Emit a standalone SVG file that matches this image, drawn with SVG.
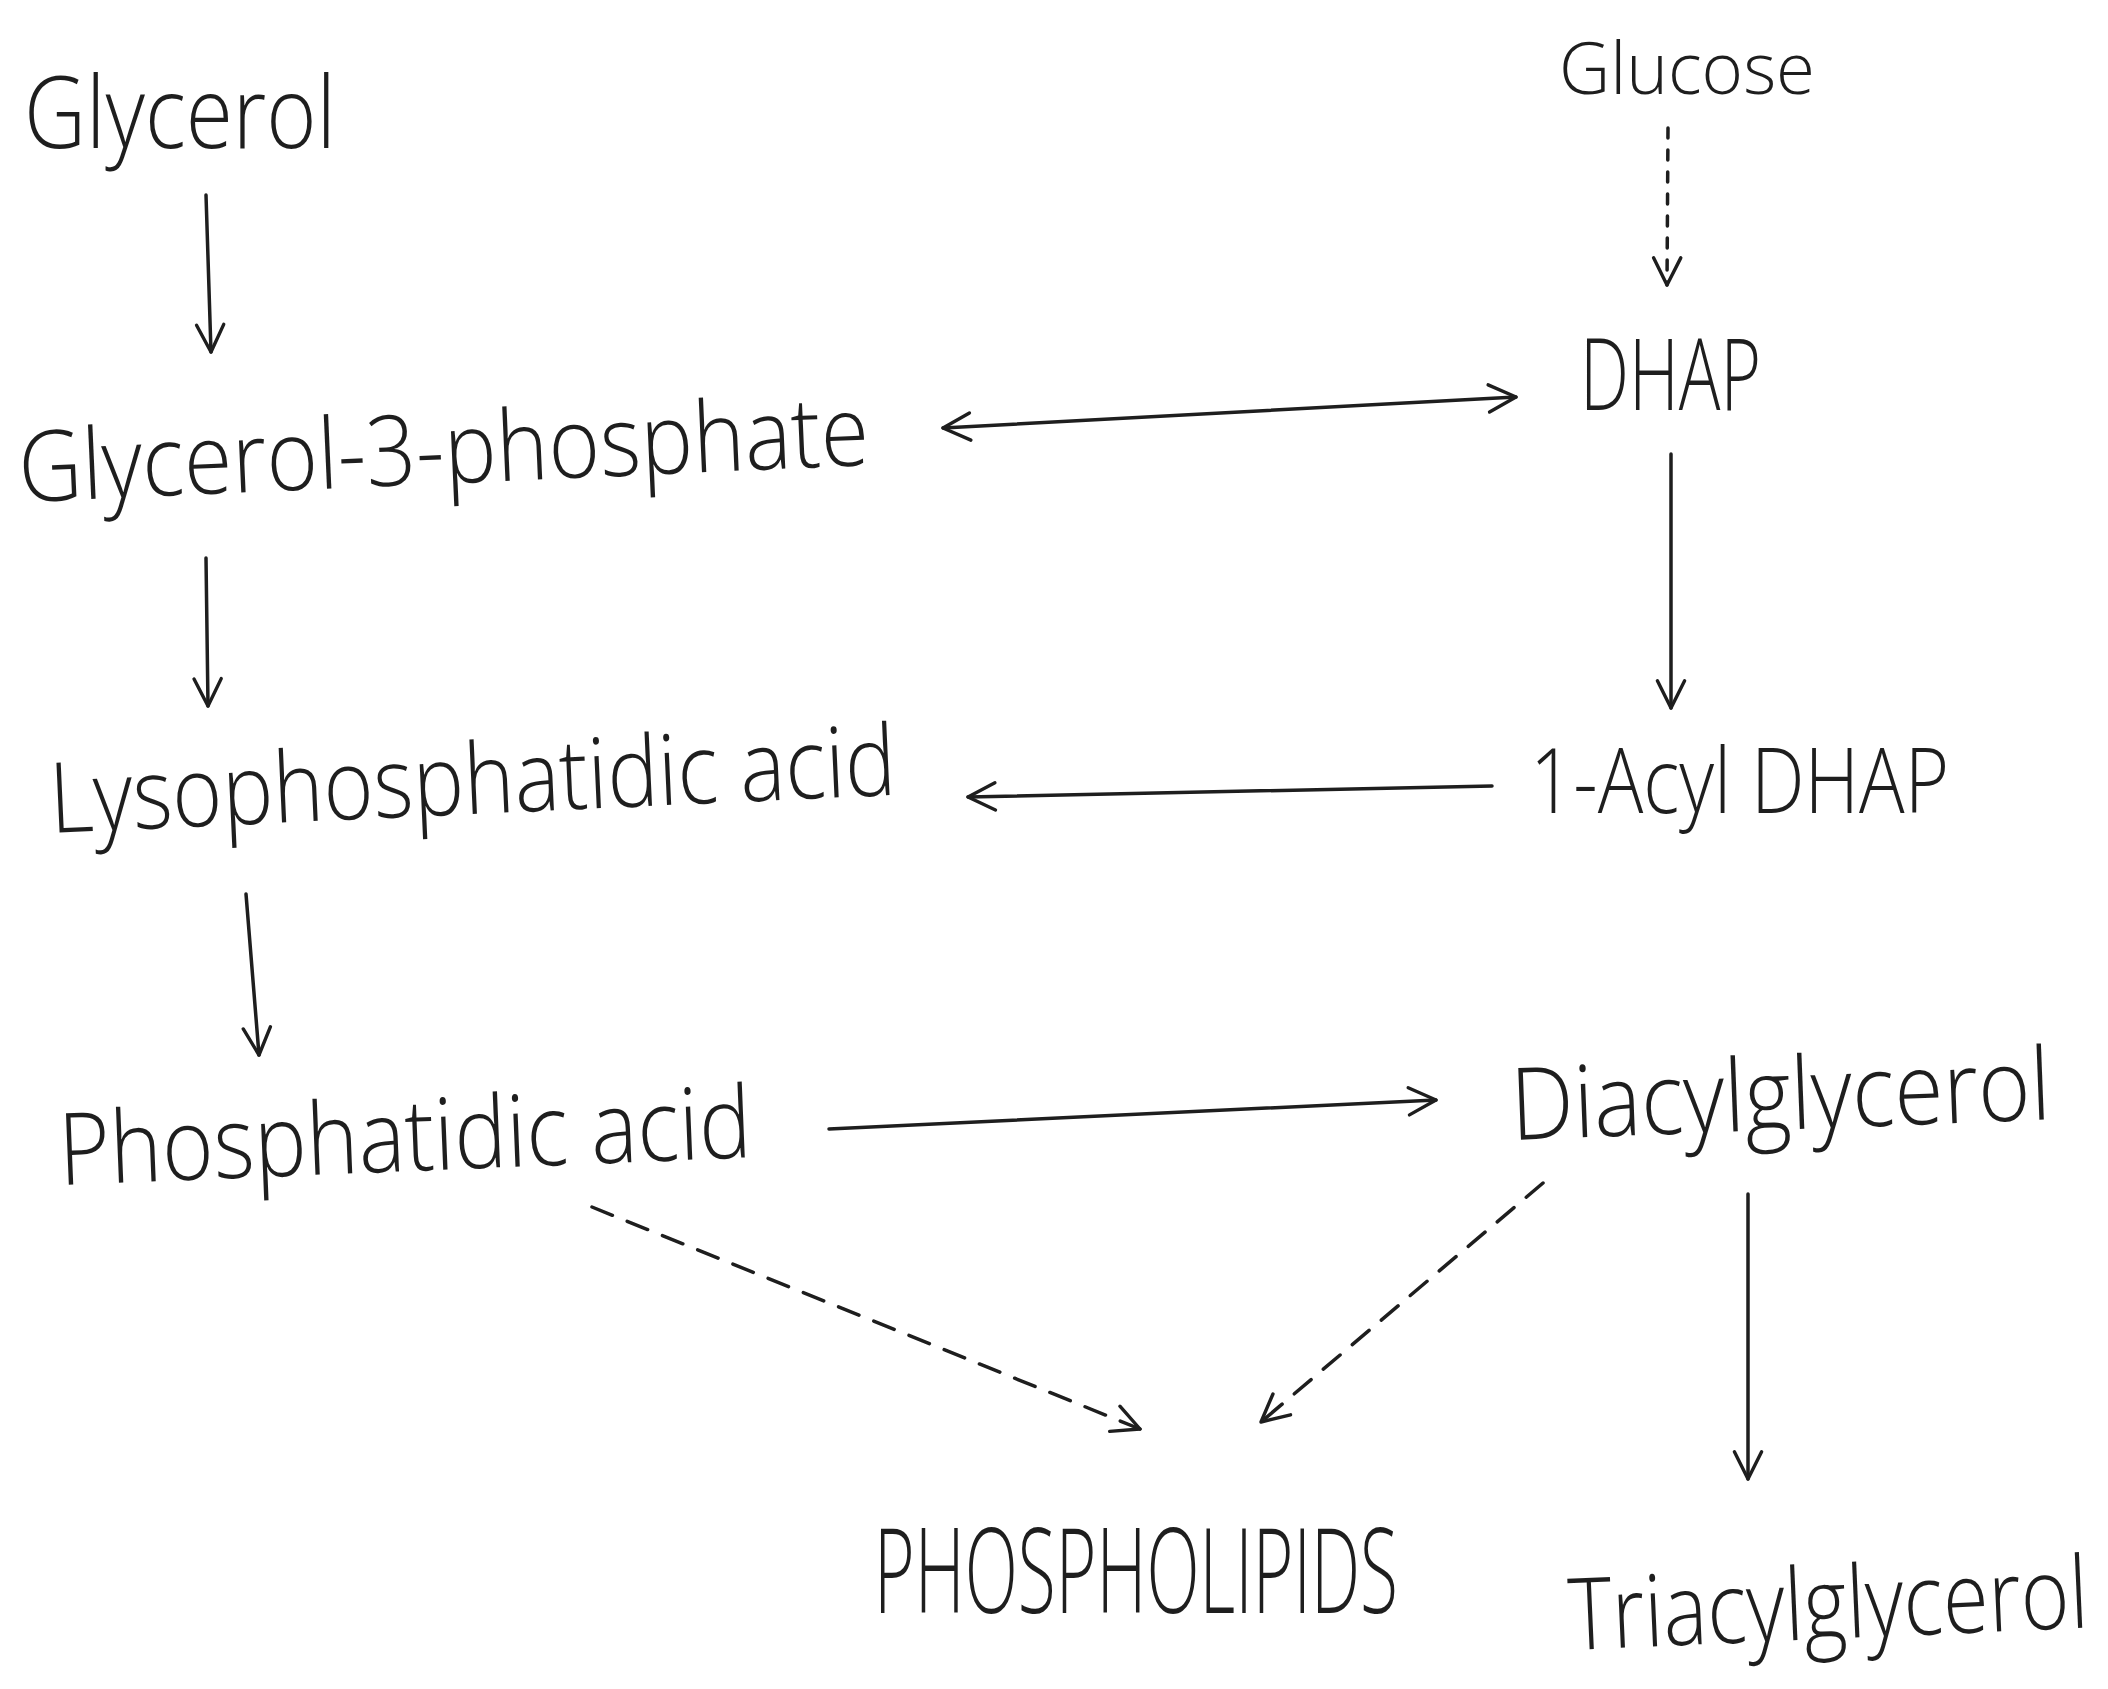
<svg xmlns="http://www.w3.org/2000/svg" width="2108" height="1689" viewBox="0 0 2108 1689">
<defs>
<style>
.t{font-family:"Open Sans","Liberation Sans",sans-serif;font-weight:300;fill:#1e1e1e;}
.c{stroke:#1e1e1e;stroke-width:3.5;fill:none;stroke-linecap:round;}
.dot{stroke-dasharray:10 12;}
.dash{stroke-dasharray:22 16;}
</style>
<marker id="ah" viewBox="0 0 20 20" refX="18" refY="10" markerWidth="34" markerHeight="34" markerUnits="userSpaceOnUse" orient="auto-start-reverse">
<path d="M2,2 L18,10 L2,18" fill="none" stroke="#1e1e1e" stroke-width="2" stroke-linecap="round" stroke-linejoin="round"/>
</marker>
</defs>
<rect width="2108" height="1689" fill="#ffffff"/>
<g id="connectors">
<line class="c" x1="206" y1="195" x2="211" y2="352" marker-end="url(#ah)"/>
<line class="c" x1="943" y1="428" x2="1516" y2="397" marker-start="url(#ah)" marker-end="url(#ah)"/>
<line class="c dot" x1="1668" y1="128" x2="1667" y2="285" marker-end="url(#ah)"/>
<line class="c" x1="1671" y1="454" x2="1671" y2="708" marker-end="url(#ah)"/>
<line class="c" x1="206" y1="558" x2="208" y2="706" marker-end="url(#ah)"/>
<line class="c" x1="1492" y1="786" x2="968" y2="797" marker-end="url(#ah)"/>
<line class="c" x1="246" y1="894" x2="259" y2="1055" marker-end="url(#ah)"/>
<line class="c" x1="829" y1="1129" x2="1436" y2="1100" marker-end="url(#ah)"/>
<line class="c" x1="1748" y1="1194" x2="1748" y2="1479" marker-end="url(#ah)"/>
<line class="c dash" x1="592" y1="1207" x2="1140" y2="1429" marker-end="url(#ah)"/>
<line class="c dash" x1="1543" y1="1183" x2="1261" y2="1422" marker-end="url(#ah)"/>
</g>
<g id="glycerol"><text class="t" x="24" y="148" font-size="100" textLength="312" lengthAdjust="spacingAndGlyphs">Glycerol</text></g>
<g id="glucose"><text class="t" x="1559" y="94" font-size="72" textLength="256" lengthAdjust="spacingAndGlyphs">Glucose</text></g>
<g id="g3p"><text class="t" x="20" y="502" font-size="98" textLength="851" lengthAdjust="spacingAndGlyphs" transform="rotate(-2.5 20 502)">Glycerol-3-phosphate</text></g>
<g id="dhap"><text class="t" x="1580" y="410" font-size="100" textLength="181" lengthAdjust="spacingAndGlyphs">DHAP</text></g>
<g id="lyso"><text class="t" x="51" y="833" font-size="98" textLength="847" lengthAdjust="spacingAndGlyphs" transform="rotate(-2.6 51 833)">Lysophosphatidic acid</text></g>
<g id="acyldhap"><text class="t" x="1530" y="813" font-size="90" textLength="419" lengthAdjust="spacingAndGlyphs">1-Acyl DHAP</text></g>
<g id="pa"><text class="t" x="60" y="1185" font-size="100" textLength="693" lengthAdjust="spacingAndGlyphs" transform="rotate(-2.3 60 1185)">Phosphatidic acid</text></g>
<g id="dag"><text class="t" x="0" y="0" font-size="85" textLength="540" lengthAdjust="spacingAndGlyphs" transform="translate(1512 1140) rotate(-2.2) scale(1 1.18)">Diacylglycerol</text></g>
<g id="pl"><text class="t" x="874" y="1613" font-size="118" textLength="524" lengthAdjust="spacingAndGlyphs">PHOSPHOLIPIDS</text></g>
<g id="tag"><text class="t" x="0" y="0" font-size="78" textLength="520" lengthAdjust="spacingAndGlyphs" transform="translate(1570 1650) rotate(-2.5) scale(1 1.28)">Triacylglycerol</text></g>
</svg>
